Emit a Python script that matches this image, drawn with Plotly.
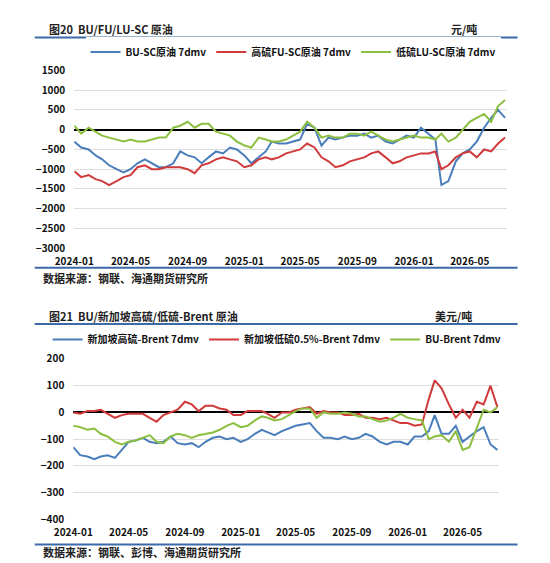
import pandas as pd
import plotly.graph_objects as go

# 半月频率日期 2024-01 ~ 2026-07
dates = []
for y in (2024, 2025, 2026):
    for m in range(1, 13):
        if y == 2026 and m > 7:
            break
        dates += [pd.Timestamp(y, m, 1), pd.Timestamp(y, m, 16)]

bu_sc = [-300, -450, -500, -650, -750, -900, -1000, -1080, -1000, -850, -750, -850,
         -950, -950, -850, -550, -650, -700, -850, -700, -550, -600, -450, -500,
         -650, -850, -700, -550, -300, -350, -350, -300, -250, 150, 50, -400,
         -200, -250, -200, -150, -150, -100, -200, -150, -300, -350, -250, -150,
         -200, 50, -100, -250, -1400, -1300, -800, -600, -500, -300, 50, 300, 500, 300]
fu_sc = [-1050, -1200, -1150, -1250, -1300, -1400, -1300, -1200, -1150, -950, -900, -1000,
         -1000, -950, -950, -950, -1000, -1100, -900, -850, -750, -700, -750, -800,
         -950, -900, -750, -700, -750, -700, -600, -550, -500, -350, -450, -700,
         -800, -950, -900, -800, -750, -700, -600, -550, -700, -850, -800, -700,
         -650, -600, -600, -550, -1000, -900, -700, -600, -550, -700, -500, -550, -350, -200]
lu_sc = [100, -100, 50, -50, -150, -200, -250, -300, -250, -300, -300, -250,
         -200, -200, 50, 100, 200, 50, 150, 150, -50, -100, -150, -300,
         -400, -450, -200, -250, -300, -300, -250, -150, -50, 200, 50, -200,
         -150, -200, -200, -100, -100, -150, -50, -150, -250, -300, -250, -200,
         -150, -200, -200, -250, -100, -300, -200, 0, 200, 300, 400, 200, 600, 750]

sg_hs = [-130, -160, -165, -175, -165, -160, -170, -140, -110, -105, -95, -110,
         -115, -110, -90, -115, -120, -115, -130, -110, -95, -90, -100, -95,
         -110, -100, -80, -65, -75, -85, -70, -60, -50, -45, -40, -70,
         -95, -95, -100, -90, -100, -95, -80, -90, -110, -120, -110, -110,
         -120, -90, -90, -70, -10, -80, -80, -50, -110, -90, -70, -55, -120, -140]
sg_ls = [0, -5, 5, 5, 10, -5, -20, -10, -5, -5, -5, -20,
         -35, -10, 0, 10, 40, 30, 5, 25, 25, 15, 10, -10,
         -10, 5, 5, 5, -5, -20, 0, 0, 10, 15, 20, -5,
         5, 0, 0, -10, -10, -5, -20, -20, -25, -20, -30, -40,
         -40, -50, -45, 50, 120, 90, 30, -20, 10, -20, 40, 30, 100, 20]
bu_brent = [-50, -55, -65, -60, -80, -90, -110, -120, -110, -105, -95, -85,
            -110, -115, -90, -80, -85, -95, -85, -80, -75, -65, -50, -40,
            -55, -50, -30, -15, -20, -30, -25, -10, 5, 15, 15, -20,
            0, -5, -5, 0, -5, -15, -15, -25, -35, -30, -20, -5,
            -20, -25, -30, -100, -90, -85, -110, -70, -140, -130, -60, 10, 0, 20]

BLUE, RED, GREEN = "#4a7ebb", "#d03a3a", "#8cbf3f"
FONT = "Noto Sans CJK SC"
H, W = 563, 550

def py(px):
    return 1 - px / H

fig = go.Figure()
for name, vals, c in [("BU-SC原油 7dmv", bu_sc, BLUE), ("高硫FU-SC原油 7dmv", fu_sc, RED),
                      ("低硫LU-SC原油 7dmv", lu_sc, GREEN)]:
    fig.add_trace(go.Scatter(x=dates, y=vals, name=name, mode="lines",
                             line=dict(color=c, width=2), xaxis="x", yaxis="y", legend="legend"))
for name, vals, c in [("新加坡高硫-Brent 7dmv", sg_hs, BLUE), ("新加坡低硫0.5%-Brent 7dmv", sg_ls, RED),
                      ("BU-Brent 7dmv", bu_brent, GREEN)]:
    fig.add_trace(go.Scatter(x=dates, y=vals, name=name, mode="lines",
                             line=dict(color=c, width=2), xaxis="x2", yaxis="y2", legend="legend2"))

tf = dict(size=10, color="#111", weight="bold")
xcommon = dict(type="date", tickformat="%Y-%m", dtick="M4", tick0="2024-01-01",
               range=["2024-01-01", "2026-07-20"], showgrid=False,
               ticks="outside", ticklen=4, tickcolor="white",
               tickfont=tf, showline=False)
ycommon = dict(showgrid=True, gridcolor="#dddddd", zeroline=True, zerolinecolor="black",
               zerolinewidth=1.5, tickfont=tf, ticks="outside", ticklen=6, tickcolor="white")

fig.update_layout(
    width=W, height=H, margin=dict(l=0, r=0, t=0, b=0),
    plot_bgcolor="white", paper_bgcolor="white",
    font=dict(family=FONT, size=10, color="#111"),
    xaxis=dict(xcommon, domain=[48 / W, 497 / W], anchor="y"),
    yaxis=dict(ycommon, domain=[py(238), py(55)], range=[-3000, 1500], dtick=500, anchor="x"),
    xaxis2=dict(xcommon, domain=[47 / W, 489 / W], anchor="y2"),
    yaxis2=dict(ycommon, domain=[py(517), py(352)], range=[-400, 200], dtick=100, anchor="x2"),
    legend=dict(orientation="h", x=0.5, xanchor="center", y=py(36), yanchor="middle",
                font=dict(size=10, weight="bold"), itemwidth=30),
    legend2=dict(orientation="h", x=0.47, xanchor="center", y=py(332), yanchor="middle",
                 font=dict(size=10, weight="bold"), itemwidth=30),
    showlegend=True,
)

texts = [(20, 12, "<b>图20  BU/FU/LU-SC 原油</b>", "left"), (437, 12, "<b>元/吨</b>", "left"),
         (13, 269, "<b>数据来源：钢联、海通期货研究所</b>", "left"),
         (20, 308, "<b>图21  BU/新加坡高硫/低硫-Brent 原油</b>", "left"), (420, 308, "<b>美元/吨</b>", "left"),
         (13, 551, "<b>数据来源：钢联、彭博、海通期货研究所</b>", "left")]
for x, y, t, a in texts:
    fig.add_annotation(x=x / W, y=py(y), xref="paper", yref="paper", text=t, showarrow=False,
                       xanchor=a, yanchor="middle", font=dict(size=11, color="#222"))
for y in (21, 258, 316, 543):
    fig.add_shape(type="line", xref="paper", yref="paper", x0=7 / W, x1=508 / W, y0=py(y), y1=py(y),
                  line=dict(color="#3b6aa8", width=2))

fig.write_html("out.html")
